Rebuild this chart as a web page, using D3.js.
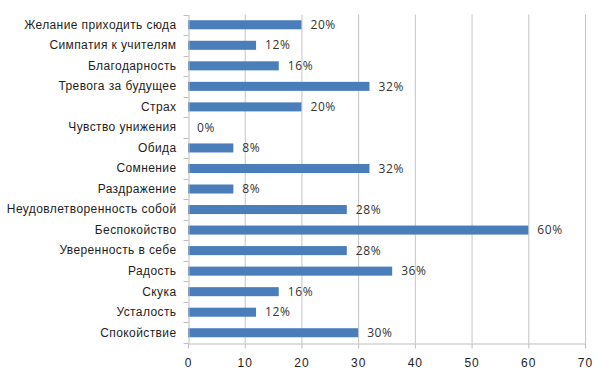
<!DOCTYPE html>
<html>
<head>
    <meta charset="utf-8">
    <script src="https://d3js.org/d3.v7.min.js"></script>
    <style>
        body {
            margin: 0;
            background: #fff;
        }
        svg {
            display: block;
            font-family: "Open Sans", sans-serif;
        }
        .grid line {
            stroke: #c4c4c4;
            stroke-width: 1;
        }
        .axis path, .axis line {
            stroke: #bdbdbd;
        }
        .axis text {
            fill: #1e1e1e;
            font-size: 12px;
            letter-spacing: 0.4px;
        }
        .xaxis text {
            letter-spacing: 1px;
        }
        .bar {
            fill: #4a7ebb;
        }
        .value {
            fill: #333;
            font-size: 12px;
            letter-spacing: 0.6px;
        }
    </style>
</head>
<body>
    <div id="chart"></div>

    <script>
        // Categories from top to bottom
        const categories = [
            "Желание приходить сюда",
            "Симпатия к учителям",
            "Благодарность",
            "Тревога за будущее",
            "Страх",
            "Чувство унижения",
            "Обида",
            "Сомнение",
            "Раздражение",
            "Неудовлетворенность собой",
            "Беспокойство",
            "Уверенность в себе",
            "Радость",
            "Скука",
            "Усталость",
            "Спокойствие"
        ];
        const values = [20, 12, 16, 32, 20, 0, 8, 32, 8, 28, 60, 28, 36, 16, 12, 30];
        const xTicks = [0, 10, 20, 30, 40, 50, 60, 70];

        const width = 603;
        const height = 372;
        const margin = {top: 14.5, right: 18, bottom: 29, left: 188};

        const svg = d3.select("#chart")
            .append("svg")
            .attr("width", width)
            .attr("height", height);

        const x = d3.scaleLinear()
            .domain([0, 70])
            .range([margin.left, width - margin.right]);

        const y = d3.scaleBand()
            .domain(categories)
            .range([margin.top, height - margin.bottom])
            .paddingInner(0.56)
            .paddingOuter(0.28);

        // vertical gridlines
        svg.append("g")
            .attr("class", "grid")
            .selectAll("line")
            .data(xTicks.slice(1))
            .enter()
            .append("line")
            .attr("x1", d => x(d) + 0.5)
            .attr("x2", d => x(d) + 0.5)
            .attr("y1", margin.top)
            .attr("y2", height - margin.bottom);

        // bars
        svg.append("g")
            .selectAll("rect")
            .data(values)
            .enter()
            .append("rect")
            .attr("class", "bar")
            .attr("x", x(0))
            .attr("y", (d, i) => y(categories[i]))
            .attr("width", d => x(d) - x(0))
            .attr("height", y.bandwidth());

        // value labels
        svg.append("g")
            .selectAll("text")
            .data(values)
            .enter()
            .append("text")
            .attr("class", "value")
            .attr("x", d => x(d) + 9)
            .attr("y", (d, i) => y(categories[i]) + y.bandwidth() / 2)
            .attr("dy", "0.35em")
            .text(d => d + "%");

        // x axis
        svg.append("g")
            .attr("class", "axis xaxis")
            .attr("transform", `translate(0,${height - margin.bottom + 0.5})`)
            .call(d3.axisBottom(x).tickValues(xTicks).tickSize(5).tickSizeOuter(0).tickPadding(10));

        // y axis with labels
        const yAxis = svg.append("g")
            .attr("class", "axis")
            .attr("transform", `translate(${x(0) + 0.5},0)`)
            .call(d3.axisLeft(y).tickSize(0).tickPadding(12).tickSizeOuter(0));

        // category separator ticks between bands
        const step = y.step();
        const bounds = categories.map(c => y(c) + y.bandwidth() / 2 - step / 2)
            .concat([y(categories[categories.length - 1]) + y.bandwidth() / 2 + step / 2]);
        yAxis.selectAll(".sep")
            .data(bounds)
            .enter()
            .append("line")
            .attr("class", "sep")
            .attr("x1", -5)
            .attr("x2", 0)
            .attr("y1", d => Math.round(d) + 0.5)
            .attr("y2", d => Math.round(d) + 0.5);
    </script>
</body>
</html>
